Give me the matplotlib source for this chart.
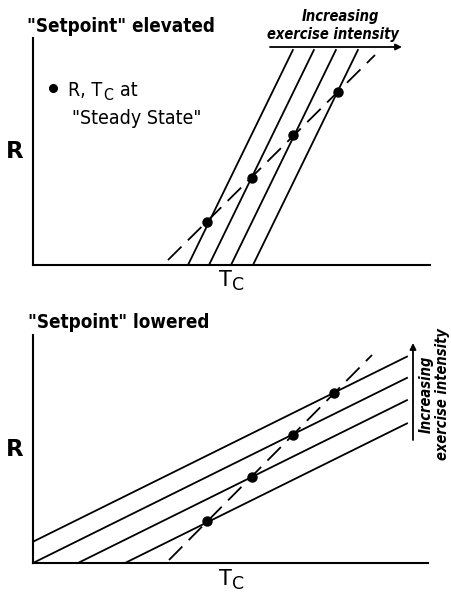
import numpy as np
import matplotlib
matplotlib.use('Agg')
import matplotlib.pyplot as plt
from matplotlib import font_manager

# pick a narrow sans if one is installed (the original uses condensed lettering)
names = {(f.name, f.stretch) for f in font_manager.fontManager.ttflist}
families = {n for n, s in names}
if 'Liberation Sans Narrow' in families:
    FAM, STRETCH = 'Liberation Sans Narrow', 'normal'
elif ('DejaVu Sans', 'condensed') in names or ('DejaVu Sans', 'semi-condensed') in names:
    FAM, STRETCH = 'DejaVu Sans', 'condensed'
else:
    FAM, STRETCH = 'Liberation Sans', 'normal'

plt.rcParams['font.family'] = [FAM, 'DejaVu Sans']
plt.rcParams['font.stretch'] = STRETCH

# --- data (arbitrary units, Tc on x, R on y) ---
# top panel: "setpoint" elevated -> steep R/Tc lines, shifted right with intensity
top_x0 = [15.5, 17.6, 19.8, 22.0]      # Tc where R = 0
top_slope = 2.05
top_ymax = 21.5

# bottom panel: "setpoint" lowered -> shallow lines, shifted up with intensity
bot_x0 = [-4.3, 0.0, 4.5, 9.2]         # Tc where R would be 0
bot_slope = 0.495
bot_xmax = 37.4

# steady state points
top_ss_tc = [17.4, 21.9, 26.0, 30.5]
top_ss_r = [4.3, 8.7, 13.0, 17.3]
bot_ss_tc = [17.4, 21.9, 26.0, 30.1]
bot_ss_r = [4.2, 8.6, 12.8, 17.0]

# dashed steady-state line endpoints
top_dash_tc = [13.5, 34.2]
top_dash_r = [0.5, 21.0]
bot_dash_tc = [13.6, 33.9]
bot_dash_r = [0.3, 20.8]

W, H = 451, 594
fig = plt.figure(figsize=(W / 100, H / 100), dpi=100)

ax1 = fig.add_axes([33 / W, 1 - 265 / H, 397 / W, 227 / H])
ax2 = fig.add_axes([33 / W, 1 - 563 / H, 395 / W, 228 / H])

for ax, xmax, ymax in [(ax1, 39.7, 22.7), (ax2, 39.5, 22.8)]:
    ax.set_xlim(0, xmax)
    ax.set_ylim(0, ymax)
    ax.set_xticks([])
    ax.set_yticks([])
    for s in ['top', 'right']:
        ax.spines[s].set_visible(False)
    for s in ['left', 'bottom']:
        ax.spines[s].set_linewidth(1.5)
    ax.patch.set_alpha(0)

lw = 1.3
dash = (0, (10.5, 5))

# top panel lines
for x0 in top_x0:
    xs = np.array([x0, x0 + top_ymax / top_slope])
    ax1.plot(xs, top_slope * (xs - x0), color='black', lw=lw, clip_on=False)
ax1.plot(top_dash_tc, top_dash_r, color='black', lw=lw, linestyle=dash)
ax1.plot(top_ss_tc, top_ss_r, 'o', color='black', ms=6.5)

# legend-ish note:  • R, T_C at  "Steady State"
ax1.plot([2.0], [17.7], 'o', color='black', ms=5.5)
t1 = ax1.text(3.5, 16.9, 'R, T', fontsize=14, va='baseline', ha='left')
t2 = ax1.annotate('C', xy=(1, 0), xycoords=t1, xytext=(0.5, 0), textcoords='offset points',
                  fontsize=11.5, va='baseline', ha='left')
ax1.annotate('at', xy=(1, 0), xycoords=(t2, t1), xytext=(5, 0), textcoords='offset points',
             fontsize=14, va='bottom', ha='left')
ax1.text(3.9, 14.7, '"Steady State"', fontsize=14, va='center', ha='left')

# intensity arrow (top)
ax1.annotate('', xy=(36.9, 21.8), xytext=(23.7, 21.8),
             arrowprops=dict(arrowstyle='-|>', color='black', lw=1.3,
                             mutation_scale=9, shrinkA=0, shrinkB=0),
             annotation_clip=False)
fig.text(340 / W, 1 - 16 / H, 'Increasing', fontsize=10.5, style='italic',
         weight='bold', ha='center', va='center')
fig.text(333 / W, 1 - 35 / H, 'exercise intensity', fontsize=10.5, style='italic',
         weight='bold', ha='center', va='center')

# bottom panel lines
for x0 in bot_x0:
    xs = np.array([max(x0, 0.0), bot_xmax])
    ax2.plot(xs, bot_slope * (xs - x0), color='black', lw=lw, clip_on=False)
ax2.plot(bot_dash_tc, bot_dash_r, color='black', lw=lw, linestyle=dash)
ax2.plot(bot_ss_tc, bot_ss_r, 'o', color='black', ms=6.5)

# intensity arrow (bottom, vertical)
ax2.annotate('', xy=(38.0, 22.0), xytext=(38.0, 12.3),
             arrowprops=dict(arrowstyle='-|>', color='black', lw=1.3,
                             mutation_scale=9, shrinkA=0, shrinkB=0),
             annotation_clip=False)
fig.text(426 / W, 1 - 394 / H, 'Increasing', fontsize=10.5, style='italic',
         weight='bold', ha='center', va='center', rotation=90)
fig.text(442 / W, 1 - 394 / H, 'exercise intensity', fontsize=10.5, style='italic',
         weight='bold', ha='center', va='center', rotation=90)

# titles
fig.text(27 / W, 1 - 27 / H, '"Setpoint" elevated', fontsize=13.5, weight='bold',
         ha='left', va='center')
fig.text(28 / W, 1 - 323 / H, '"Setpoint" lowered', fontsize=13.5, weight='bold',
         ha='left', va='center')

# axis labels: R and T with subscript C
for ry, ty in [(151, 280), (449, 579)]:
    fig.text(15 / W, 1 - ry / H, 'R', fontsize=16.5, weight='bold', fontstretch='normal',
             ha='center', va='center')
    tt = fig.text(225 / W, 1 - ty / H, 'T', fontsize=15, fontstretch='normal',
                  ha='center', va='center')
    ax1.annotate('C', xy=(1, 0), xycoords=tt, xytext=(0.5, 0), textcoords='offset points',
                 fontsize=12.5, fontstretch='normal', va='baseline', ha='left',
                 annotation_clip=False)

fig.savefig('out.png', dpi=100)
